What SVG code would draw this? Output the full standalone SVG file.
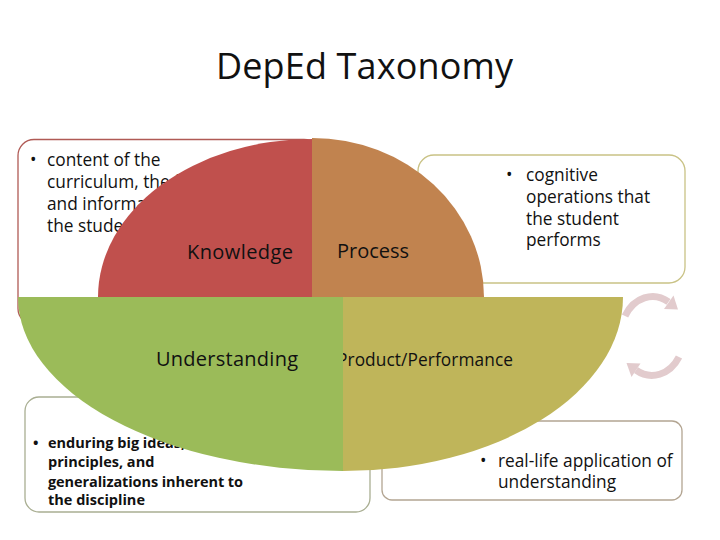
<svg xmlns="http://www.w3.org/2000/svg" width="720" height="540" viewBox="0 0 720 540">
<style>
  text { font-family: "Open Sans", "Liberation Sans", sans-serif; fill: #111; }
  .title { font-size: 36px; }
  .lbl { font-size: 20px; }
  .box { fill: #ffffff; stroke-width: 1.3; }
  .body { font-size: 17.3px; }
  .bold { font-size: 14.5px; font-weight: bold; }
  .cyc { fill: none; stroke: #e2cbcd; stroke-width: 7; }
  .cychead { fill: #e2cbcd; }
</style>
<rect width="720" height="540" fill="#ffffff"/>
<text class="title" x="216" y="79" textLength="297">DepEd Taxonomy</text>

<g id="knowledge-desc">
  <rect class="box" x="18" y="139.5" width="302" height="185" rx="16" stroke="#b05a55"/>
  <text class="body"><tspan x="30" y="166">•</tspan><tspan x="47" y="166">content of the</tspan><tspan x="47" y="188">curriculum, the facts</tspan><tspan x="47" y="210">and information that</tspan><tspan x="47" y="232">the student acquires</tspan></text>
</g>
<g id="process-desc">
  <rect class="box" x="418" y="155" width="267" height="128" rx="16" stroke="#c9c285"/>
  <text class="body"><tspan x="506" y="181">•</tspan><tspan x="526" y="181">cognitive</tspan><tspan x="526" y="203">operations that</tspan><tspan x="526" y="225">the student</tspan><tspan x="526" y="246">performs</tspan></text>
</g>
<g id="understanding-desc">
  <rect class="box" x="25" y="397" width="345" height="115" rx="14" stroke="#a9ae92"/>
  <text class="bold"><tspan x="33" y="448">•</tspan><tspan x="48" y="448">enduring big ideas,</tspan><tspan x="48" y="467">principles, and</tspan><tspan x="48" y="487" textLength="195">generalizations inherent to</tspan><tspan x="48" y="505">the discipline</tspan></text>
</g>
<g id="product-desc">
  <rect class="box" x="382" y="421" width="300" height="79" rx="10" stroke="#b3a592"/>
  <text class="body"><tspan x="480" y="467">•</tspan><tspan x="498" y="467">real-life application of</tspan><tspan x="498" y="488">understanding</tspan></text>
</g>

<g id="connectors">
  <path class="cyc" d="M 625,316 A 32 39.5 0 0 1 668.5,301.8"/>
  <path class="cychead" d="M 673.5,295.5 L 664,309 L 678,309.5 Z"/>
  <path class="cyc" d="M 679,357 A 32 39.5 0 0 1 636,370.2"/>
  <path class="cychead" d="M 640.5,363.5 L 631.5,377 L 626.5,363 Z"/>
</g>

<g id="knowledge">
  <path d="M312,297 L98,297 A214,158 0 0 1 312,139 Z" fill="#c0504d"/>
  <text class="lbl" x="187" y="259" textLength="106">Knowledge</text>
</g>
<g id="process">
  <path d="M312,297 L312,138 A172,159 0 0 1 484,297 Z" fill="#c1834f"/>
  <text class="lbl" x="337" y="258" textLength="72">Process</text>
</g>
<g id="product">
  <path d="M343,297 L623,297 A280,174 0 0 1 343,471 Z" fill="#bfb55a"/>
  <text x="337" y="366" font-size="17.3" textLength="176">Product/Performance</text>
</g>
<g id="understanding">
  <path d="M343,297 L18,297 A325,174 0 0 0 343,471 Z" fill="#9bbb59"/>
  <text class="lbl" x="156" y="366" textLength="142">Understanding</text>
</g>
</svg>
